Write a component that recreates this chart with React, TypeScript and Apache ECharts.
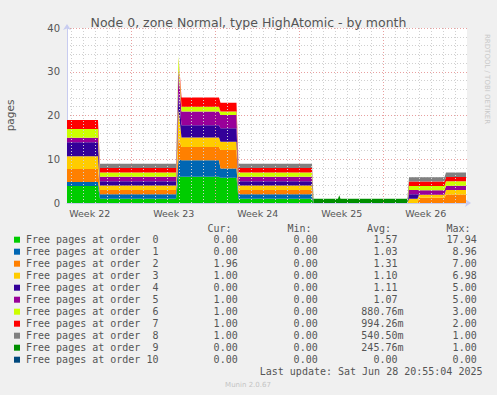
import React, { useEffect, useRef } from "react";
import * as echarts from "echarts";

// ---------- data ----------
const titleText = "Node 0, zone Normal, type HighAtomic - by month";
const yAxisName = "pages";

const axisStart = "2025-05-26 14:36";
const axisEnd = "2025-06-28 22:36";

// sample times
const timePoints = [
  "2025-05-26 14:36", "2025-05-29 04:36", "2025-05-29 08:36", "2025-06-04 16:36",
  "2025-06-04 21:36", "2025-06-05 03:36", "2025-06-08 06:36", "2025-06-08 09:36",
  "2025-06-09 17:36", "2025-06-09 21:36", "2025-06-16 00:36", "2025-06-16 03:36",
  "2025-06-18 04:36", "2025-06-18 07:06", "2025-06-18 09:36", "2025-06-23 23:36",
  "2025-06-24 02:36", "2025-06-24 19:36", "2025-06-24 22:36", "2025-06-27 01:36",
  "2025-06-27 04:36", "2025-06-28 20:36",
];

const order0 = [3.9, 3.9, 1, 1, 6, 6, 6, 5.8, 5.8, 1, 1, 0, 0, 0, 0, 0, 0, 0, 0, 0, 0, 0];
const order1 = [0.9, 0.9, 1, 1, 4, 3.8, 3.8, 2.1, 2.1, 1, 1, 0, 0, 0, 0, 0, 0, 0, 0, 0, 0, 0];
const order2 = [3.0, 3.0, 1, 1, 5, 3.0, 3.0, 4.2, 4.2, 1, 1, 0, 0, 0, 0, 0, 0, 0, 1.2, 1.2, 1.96, 1.96];
const order3 = [2.9, 2.9, 1, 1, 6.5, 2.2, 2.2, 1.9, 1.9, 1, 1, 0, 0, 0, 0, 0, 1, 1, 0.7, 0.7, 1, 1];
const order4 = [3.2, 3.2, 1, 1, 4, 2.8, 2.8, 3.1, 3.1, 1, 1, 0, 0, 0, 0, 0, 1, 1, 0, 0, 0, 0];
const order5 = [1.0, 1.0, 1, 1, 5, 3.1, 3.1, 3.0, 3.0, 1, 1, 0, 0, 0, 0, 0, 1, 1, 1, 1, 1, 1];
const order6 = [2.0, 2.0, 1, 1, 3.1, 1.1, 1.1, 0.8, 0.8, 1, 1, 0, 0, 0, 0, 0, 0.9, 0.9, 1, 1, 1, 1];
const order7 = [2.1, 2.1, 1, 1, 0, 2.1, 2.1, 2.0, 2.0, 1, 1, 0, 0, 0, 0, 0, 1, 1, 1, 1, 1, 1];
const order8 = [0, 0, 1, 1, 0, 0, 0, 0, 0, 1, 1, 0, 0, 0, 0, 0, 1, 1, 1, 1, 1, 1];
const order9 = [0, 0, 0, 0, 0, 0, 0, 0, 0, 0, 0, 1, 1, 1.8, 1, 1, 0, 0, 0, 0, 0, 0];
const order10 = [0, 0, 0, 0, 0, 0, 0, 0, 0, 0, 0, 0, 0, 0, 0, 0, 0, 0, 0, 0, 0, 0];

const seriesValues = [order0, order1, order2, order3, order4, order5, order6, order7, order8, order9, order10];
const seriesNames = [
  "Free pages at order  0",
  "Free pages at order  1",
  "Free pages at order  2",
  "Free pages at order  3",
  "Free pages at order  4",
  "Free pages at order  5",
  "Free pages at order  6",
  "Free pages at order  7",
  "Free pages at order  8",
  "Free pages at order  9",
  "Free pages at order 10",
];
const seriesColors = ["#00CC00", "#0066B3", "#FF8000", "#FFCC00", "#330099", "#990099", "#CCFF00", "#FF0000", "#808080", "#008F00", "#00487D"];

const curVals = ["0.00", "0.00", "1.96", "1.00", "0.00", "1.00", "1.00", "1.00", "1.00", "0.00", "0.00"];
const minVals = ["0.00", "0.00", "0.00", "0.00", "0.00", "0.00", "0.00", "0.00", "0.00", "0.00", "0.00"];
const avgVals = ["1.57", "1.03", "1.31", "1.10", "1.11", "1.07", "880.76m", "994.26m", "540.50m", "245.76m", "0.00"];
const maxVals = ["17.94", "8.96", "7.00", "6.98", "5.00", "5.00", "3.00", "2.00", "1.00", "1.00", "0.00"];
const colHeaders = ["Cur:", "Min:", "Avg:", "Max:"];

// week labels sit mid-week, major grid lines on week boundaries, minor grid lines every midnight
const weekLabelTimes = ["2025-05-28 12:00", "2025-06-04 12:00", "2025-06-11 12:00", "2025-06-18 12:00", "2025-06-25 12:00"];
const weekLabels = ["Week 22", "Week 23", "Week 24", "Week 25", "Week 26"];
const majorGridTimes = ["2025-06-01 00:00", "2025-06-08 00:00", "2025-06-15 00:00", "2025-06-22 00:00"];
const firstMidnight = "2025-05-27 00:00";

const lastUpdate = "Last update: Sat Jun 28 20:55:04 2025";
const footer = "Munin 2.0.67";
const sideText = "RRDTOOL / TOBI OETIKER";

// ---------- helpers / styling ----------
const MONO = '"DejaVu Sans Mono", monospace';
const SANS = '"DejaVu Sans", sans-serif';
const TXT = "#555555";
const DAY = 86400000;
const ts = (s: string) => new Date(s.replace(" ", "T") + ":00").getTime();

export default function App() {
  const ref = useRef<HTMLDivElement>(null);

  useEffect(() => {
    if (!ref.current) return;
    const chart = echarts.init(ref.current, undefined, { renderer: "svg" });

    const xMin = ts(axisStart);
    const xMax = ts(axisEnd);
    const majors = majorGridTimes.map(ts);
    const labelTs = weekLabelTimes.map(ts);
    const minors: number[] = [];
    for (let t = ts(firstMidnight); t < xMax; t += DAY) {
      if (!majors.some((m) => Math.abs(m - t) < 3600000)) minors.push(t);
    }
    const xs = timePoints.map(ts);

    const areaSeries = seriesValues.map((vals, i) => ({
      name: seriesNames[i],
      type: "line",
      stack: "total",
      symbol: "none",
      showSymbol: false,
      color: seriesColors[i],
      itemStyle: { color: seriesColors[i] },
      lineStyle: { width: 0, color: seriesColors[i] },
      areaStyle: { color: seriesColors[i], opacity: 1 },
      z: 3,
      data: xs.map((x, j) => [x, vals[j]]),
    }));

    const gridSeries = {
      name: "__grid",
      type: "line",
      data: [],
      z: 1,
      silent: true,
      markLine: {
        silent: true,
        symbol: "none",
        label: { show: false },
        animation: false,
        data: [
          ...minors.map((t) => ({ xAxis: t, lineStyle: { color: "#D0D0D0", type: [1, 2], width: 1 } })),
          ...majors.map((t) => ({ xAxis: t, lineStyle: { color: "#E8A0A0", type: [1, 2], width: 1 } })),
        ],
      },
    };

    const tableRowY = (k: number) => 239.7 + 12 * k;
    const valueCols = [
      { vals: curVals, right: 237.7 },
      { vals: minVals, right: 317.7 },
      { vals: avgVals.map((v) => (v.endsWith("m") ? v : v + " ")), right: 403.5 },
      { vals: maxVals, right: 476.7 },
    ];
    const headerRights = [231.5, 311.5, 391, 470.5];

    const graphics: any[] = [];
    colHeaders.forEach((h, c) => {
      graphics.push({
        type: "text",
        x: headerRights[c],
        y: 228.3,
        style: { text: h, font: `10px ${MONO}`, fill: TXT, textAlign: "right", textVerticalAlign: "middle" },
      });
    });
    valueCols.forEach((col) => {
      col.vals.forEach((v, k) => {
        graphics.push({
          type: "text",
          x: col.right,
          y: tableRowY(k),
          style: { text: v, font: `10px ${MONO}`, fill: TXT, textAlign: "right", textVerticalAlign: "middle" },
        });
      });
    });
    graphics.push({
      type: "text",
      x: 482.5,
      y: 371.7,
      style: { text: lastUpdate, font: `10px ${MONO}`, fill: TXT, textAlign: "right", textVerticalAlign: "middle" },
    });
    graphics.push({
      type: "text",
      x: 248,
      y: 384.5,
      style: { text: footer, font: `7px ${SANS}`, fill: "#C4C4C4", textAlign: "center", textVerticalAlign: "middle" },
    });
    graphics.push({
      type: "text",
      x: 487,
      y: 34,
      rotation: -Math.PI / 2,
      style: { text: sideText, font: `7px ${SANS}`, fill: "#C8C8C8", textAlign: "left", textVerticalAlign: "middle" },
    });

    const axisLineStyle = {
      show: true,
      lineStyle: { color: "#C8CCF0", width: 1 },
      symbol: ["none", "arrow"],
      symbolSize: [6, 6],
      symbolOffset: [0, 4],
    };

    const option: any = {
      animation: false,
      backgroundColor: "#F0F0F0",
      title: {
        text: titleText,
        left: "center",
        top: 11,
        textStyle: { fontFamily: SANS, fontSize: 12.5, fontWeight: "normal", color: TXT },
      },
      grid: {
        left: 67,
        right: 30,
        top: 28,
        bottom: 192,
        show: true,
        backgroundColor: "#FFFFFF",
        borderWidth: 0,
        containLabel: false,
        outerBoundsMode: "none",
      },
      legend: {
        orient: "vertical",
        left: 14,
        top: 233.7,
        padding: 0,
        itemGap: 0,
        itemWidth: 6,
        itemHeight: 6,
        icon: "rect",
        selectedMode: false,
        data: seriesNames,
        textStyle: { fontFamily: MONO, fontSize: 10, color: TXT, lineHeight: 12, padding: [0, 0, 0, 1] },
      },
      xAxis: [
        {
          type: "time",
          min: xMin,
          max: xMax,
          position: "bottom",
          axisLine: axisLineStyle,
          axisTick: { show: false },
          splitLine: { show: false },
          axisLabel: { show: false },
        },
        {
          // label-only axis spanning the same time range
          type: "value",
          min: xMin,
          max: xMax,
          position: "bottom",
          axisLine: { show: false },
          axisTick: { show: false },
          splitLine: { show: false },
          axisLabel: {
            customValues: labelTs,
            formatter: (v: number) => {
              const i = labelTs.findIndex((w) => Math.abs(w - v) < 60000);
              return i >= 0 ? weekLabels[i] : "";
            },
            color: TXT,
            fontFamily: SANS,
            fontSize: 9.5,
            margin: 5,
          },
        },
      ],
      yAxis: {
        type: "value",
        min: 0,
        max: 40,
        interval: 10,
        name: yAxisName,
        nameLocation: "middle",
        nameRotate: 90,
        nameGap: 52,
        nameTextStyle: { fontFamily: SANS, fontSize: 10.5, color: TXT },
        axisLine: axisLineStyle,
        axisTick: { show: false },
        axisLabel: { color: TXT, fontFamily: SANS, fontSize: 10, margin: 7 },
        splitLine: { show: true, lineStyle: { color: "#E8A0A0", type: [1, 2], width: 1 } },
        minorTick: { show: false, splitNumber: 5 },
        minorSplitLine: { show: true, lineStyle: { color: "#D0D0D0", type: [1, 2], width: 1 } },
      },
      series: [gridSeries, ...areaSeries],
      graphic: graphics,
    };

    chart.setOption(option);
    return () => chart.dispose();
  }, []);

  return <div ref={ref} style={{ position: "absolute", left: 0, top: 0, width: 497, height: 395 }} />;
}
